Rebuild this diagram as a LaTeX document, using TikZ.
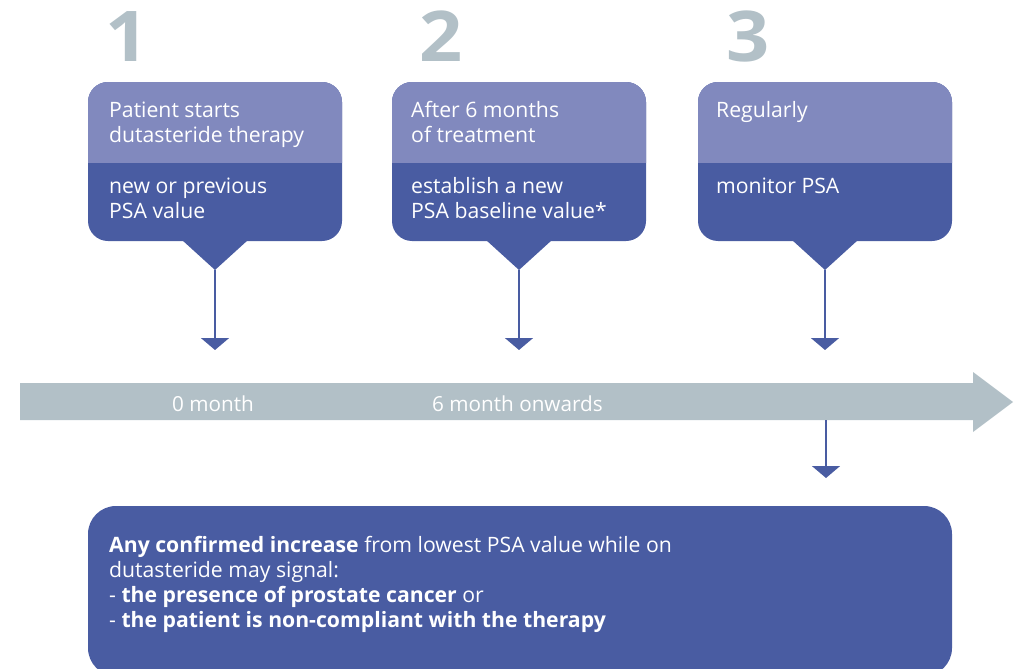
\documentclass[tikz,border=0pt]{standalone}
\usepackage{fontspec}
\setmainfont{Open Sans}
\newfontfamily\digitfont[FakeStretch=1.08]{Open Sans}
\usetikzlibrary{arrows.meta}
\definecolor{lightband}{RGB}{129,137,190}
\definecolor{darkband}{RGB}{73,92,162}
\definecolor{greyarrow}{RGB}{178,192,199}
\begin{document}
\begin{tikzpicture}[x=1pt,y=-1pt,
  boxtext/.style={anchor=base west,inner sep=0pt,align=left,text=white,font=\fontsize{21.2}{25}\selectfont},
  msgtext/.style={anchor=base west,inner sep=0pt,align=left,text=white,font=\fontsize{21.2}{25}\selectfont},
  timetext/.style={anchor=base west,inner sep=0pt,text=white,font=\fontsize{20.7}{22}\selectfont},
  digit/.style={anchor=base west,inner sep=0pt,text=greyarrow,font=\digitfont\bfseries\fontsize{70}{70}\selectfont},
  conn/.style={draw=darkband,line width=1.5pt,-{Triangle[width=28pt,length=12pt]}}]
\useasboundingbox (0,0) rectangle (1017,669);
% step boxes
\foreach \i/\xl/\dx in {1/88/17, 2/392/27, 3/698/28} {
  \pgfmathsetmacro\xr{\xl+254}
  \pgfmathsetmacro\xc{\xl+127}
  \fill[darkband, rounded corners=20] (\xl,82) rectangle (\xr,241);
  \fill[darkband] (\xc-33,240) -- (\xc+33,240) -- (\xc,270) -- cycle;
  \begin{scope}
    \clip (\xl,82) rectangle (\xr,162);
    \fill[lightband, rounded corners=20] (\xl,82) rectangle (\xr,241);
  \end{scope}
  \coordinate (tip\i) at (\xc,270);
  \coordinate (head\i) at (\xc,350);
  \draw[conn] (tip\i) -- (head\i);
  \node[digit] (num\i) at (\xl+\dx,62) {\i};
}
% timeline
\fill[greyarrow] (20,383) -- (973,383) -- (973,372) -- (1013,402) -- (973,432) -- (973,420) -- (20,420) -- cycle;
\coordinate (below3) at (826,420);
\coordinate (head4) at (826,478);
\draw[conn] (below3) -- (head4);
\node[timetext] (m0) at (172,411) {0 month};
\node[timetext] (m6) at (432,411) {6 month onwards};
% texts in boxes
\node[boxtext] (t1a) at (109,142) {Patient starts\\dutasteride therapy};
\node[boxtext] (t1b) at (109,218) {new or previous\\PSA value};
\node[boxtext] (t2a) at (411,142) {After 6 months\\of treatment};
\node[boxtext] (t2b) at (411,218) {establish a new\\PSA baseline value*};
\node[boxtext] (t3a) at (716,117) {Regularly};
\node[boxtext] (t3b) at (716,193) {monitor PSA};
% bottom message
\fill[darkband, rounded corners=28] (88,506) rectangle (952,676);
\node[msgtext] (msg) at (109,627) {\textbf{Any confirmed increase} from lowest PSA value while on\\dutasteride may signal:\\- \textbf{the presence of prostate cancer} or\\- \textbf{the patient is non-compliant with the therapy}};
\end{tikzpicture}
\end{document}
